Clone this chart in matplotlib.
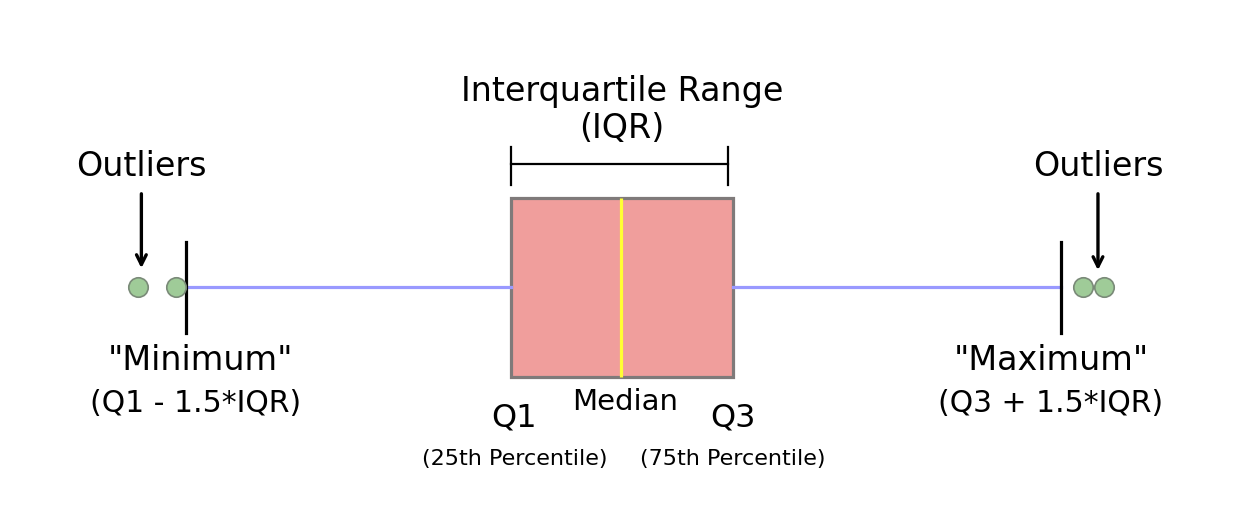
import matplotlib
matplotlib.use("Agg")
import matplotlib.pyplot as plt

# ---- data (in units of standard deviation) ----
q1 = -0.668
median = 0.0
q3 = 0.680
whisker_low = -2.643
whisker_high = 2.673
outliers_low = [-2.934, -2.703]
outliers_high = [2.807, 2.934]

labels_top = ["Interquartile Range", "(IQR)"]
label_outliers = "Outliers"
label_min = ['"Minimum"', "(Q1 - 1.5*IQR)"]
label_max = ['"Maximum"', "(Q3 + 1.5*IQR)"]
label_q1 = ["Q1", "(25th Percentile)"]
label_q3 = ["Q3", "(75th Percentile)"]
label_median = "Median"

plt.rcParams['font.family'] = ['DejaVu Sans']

W, H, DPI = 1254, 516, 100
fig = plt.figure(figsize=(W / DPI, H / DPI), dpi=DPI)
ax = fig.add_axes([0, 0, 1, 1])
ax.set_xlim(-3.773, 3.846)
ax.set_ylim(516 - 287, -287)  # y in pixels relative to box center, downward
ax.axis("off")

stats = [dict(med=median, q1=q1, q3=q3, whislo=whisker_low, whishi=whisker_high,
              fliers=outliers_low + outliers_high)]
lw = 2.3
ax.bxp(stats, positions=[0], widths=179, orientation="horizontal", patch_artist=True,
       capwidths=91,
       boxprops=dict(facecolor="#f09e9c", edgecolor="#7f7a7a", linewidth=lw),
       medianprops=dict(color="#ffff33", linewidth=lw),
       whiskerprops=dict(color="#9999ff", linewidth=lw),
       capprops=dict(color="black", linewidth=lw),
       flierprops=dict(marker="o", markerfacecolor="#9fcb98", markeredgecolor="#7a8a78",
                       markersize=14, markeredgewidth=1.2))

# IQR bracket
ax.plot([q1, q3 - 0.03], [-123, -123], color="black", lw=1.6)
ax.plot([q1, q1], [-140, -102], color="black", lw=1.6)
ax.plot([q3 - 0.03, q3 - 0.03], [-140, -102], color="black", lw=1.6)

ax.text((q1 + q3) / 2, -196, labels_top[0], ha="center", va="center", fontsize=24)
ax.text((q1 + q3) / 2, -158, labels_top[1], ha="center", va="center", fontsize=24)

# Outliers labels and arrows
lx = outliers_low[0] + 0.02
rx = 2.898
ax.text(lx, -120, label_outliers, ha="center", va="center", fontsize=24)
ax.text(rx, -120, label_outliers, ha="center", va="center", fontsize=24)
arrow = dict(arrowstyle="->, head_length=0.7, head_width=0.35", color="black", lw=2.4)
ax.annotate("", xy=(lx, -16), xytext=(lx, -96), arrowprops=arrow)
ax.annotate("", xy=(rx, -14), xytext=(rx, -96), arrowprops=arrow)

# Minimum / Maximum
ax.text(whisker_low + 0.09, 73, label_min[0], ha="center", va="center", fontsize=24)
ax.text(whisker_low + 0.06, 116, label_min[1], ha="center", va="center", fontsize=21.5)
ax.text(whisker_high - 0.06, 73, label_max[0], ha="center", va="center", fontsize=24)
ax.text(whisker_high - 0.06, 116, label_max[1], ha="center", va="center", fontsize=21.5)

# Q1 / Q3 / Median
ax.text(q1 + 0.02, 131, label_q1[0], ha="center", va="center", fontsize=23)
ax.text(q1 + 0.02, 172, label_q1[1], ha="center", va="center", fontsize=16)
ax.text(q3 + 0.0, 131, label_q3[0], ha="center", va="center", fontsize=23)
ax.text(q3 + 0.0, 172, label_q3[1], ha="center", va="center", fontsize=16)
ax.text(median + 0.025, 115, label_median, ha="center", va="center", fontsize=21)

fig.savefig("out.png", dpi=DPI, facecolor="white")
